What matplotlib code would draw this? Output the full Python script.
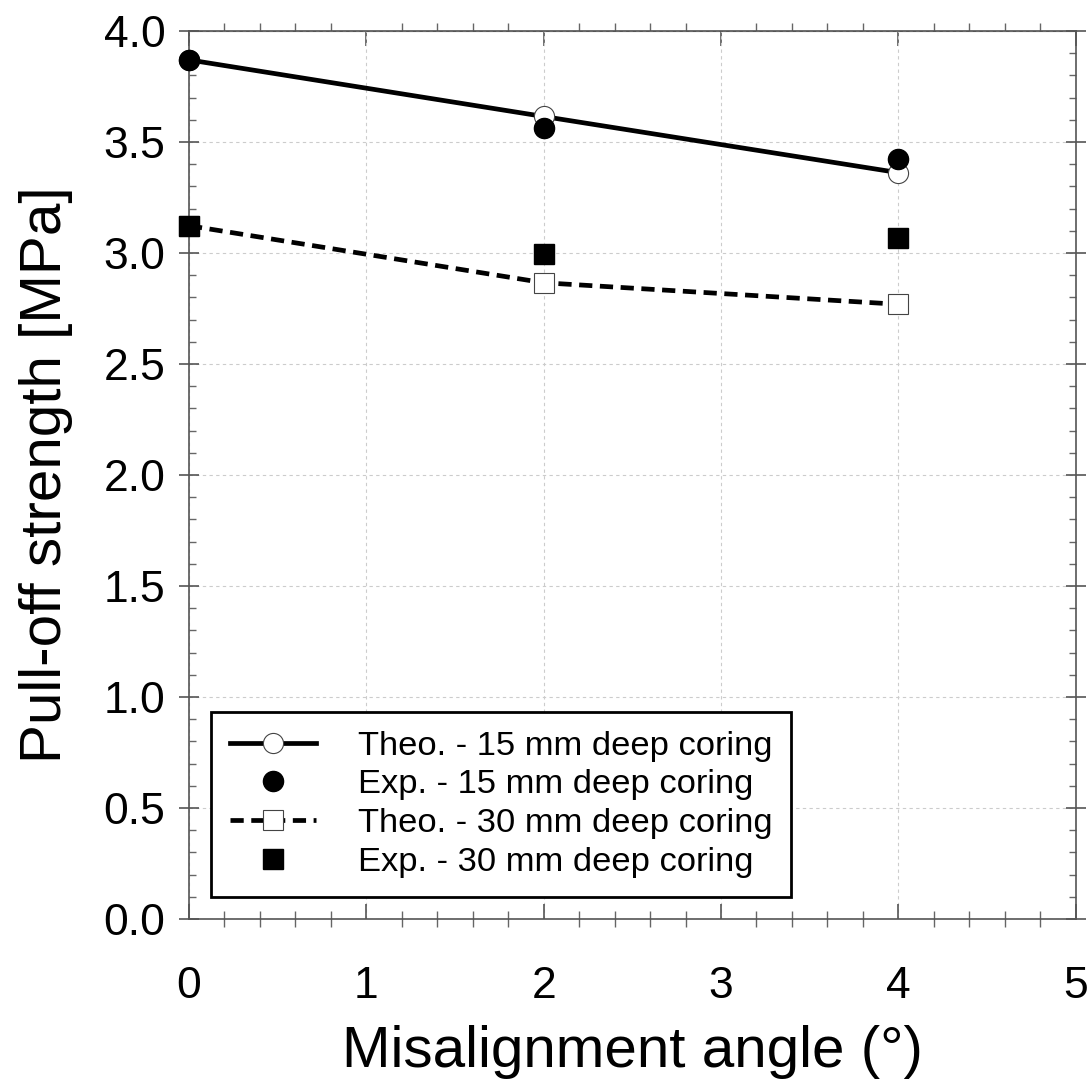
import matplotlib
matplotlib.use("Agg")
import matplotlib.pyplot as plt
from matplotlib.ticker import MultipleLocator

plt.rcParams['font.family'] = ['Liberation Sans', 'DejaVu Sans']

# Data
angle = [0, 2, 4]
theo_15 = [3.87, 3.615, 3.362]
exp_15 = [3.87, 3.565, 3.423]
theo_30 = [3.123, 2.866, 2.769]
exp_30 = [3.123, 2.995, 3.066]

labels = [
    "Theo. - 15 mm deep coring",
    "Exp. - 15 mm deep coring",
    "Theo. - 30 mm deep coring",
    "Exp. - 30 mm deep coring",
]

fig = plt.figure(figsize=(10.88, 10.81), dpi=100)
ax = fig.add_axes([0.1737, 0.1499, 0.815, 0.8214])

ax.grid(True, which='major', color='#cccccc', linestyle=(0, (3, 3)), linewidth=0.8)
ax.set_axisbelow(True)

l1, = ax.plot(angle, theo_15, '-', color='black', lw=3.4, marker='o', ms=14.5,
              mfc='white', mec='#444444', mew=0.8, zorder=3, clip_on=False)
l2, = ax.plot(angle, exp_15, 'o', color='black', ms=14.5, zorder=4, clip_on=False)
l3, = ax.plot(angle, theo_30, '--', color='black', lw=3.4, dashes=(2.8, 1.6), marker='s',
              ms=14.5, mfc='white', mec='#444444', mew=0.8, zorder=3, clip_on=False)
l4, = ax.plot(angle, exp_30, 's', color='black', ms=14.5, zorder=4, clip_on=False)

ax.set_xlim(0, 5)
ax.set_ylim(0, 4)
ax.xaxis.set_major_locator(MultipleLocator(1))
ax.xaxis.set_minor_locator(MultipleLocator(0.2))
ax.yaxis.set_major_locator(MultipleLocator(0.5))
ax.yaxis.set_minor_locator(MultipleLocator(0.1))
ax.yaxis.set_major_formatter(plt.FormatStrFormatter('%.1f'))

for s in ax.spines.values():
    s.set_color('#555555')
    s.set_linewidth(1.2)

ax.tick_params(axis='y', which='major', direction='inout', length=14, width=1.2,
               color='#555555', labelsize=32, pad=10, right=True)
ax.tick_params(axis='y', which='minor', direction='in', length=5, width=1,
               color='#666666', right=True)
ax.tick_params(axis='x', which='major', direction='in', length=11, width=1.2,
               color='#555555', labelsize=32, pad=34)
ax.tick_params(axis='x', which='minor', direction='inout', length=11, width=1,
               color='#666666')

top = ax.secondary_xaxis('top')
top.xaxis.set_major_locator(MultipleLocator(1))
top.xaxis.set_minor_locator(MultipleLocator(0.2))
top.tick_params(which='major', direction='in', length=11, width=1.2, color='#555555',
                labeltop=False)
top.tick_params(which='minor', direction='out', length=6, width=1, color='#666666')
top.spines['top'].set_color('#555555')

ax.set_xlabel("Misalignment angle (°)", fontsize=42, labelpad=13)
ax.set_ylabel("Pull-off strength [MPa]", fontsize=42, labelpad=22)

leg = ax.legend([l1, l2, l3, l4], labels, loc='lower left', bbox_to_anchor=(0.025, 0.025),
                borderaxespad=0, fontsize=24.8, frameon=True, fancybox=False,
                framealpha=1, edgecolor='black', handlelength=2.5, markerscale=1.0,
                labelspacing=0.22, borderpad=0.55, handletextpad=1.2)
leg.get_frame().set_linewidth(2)

fig.savefig("out.png", dpi=100)
